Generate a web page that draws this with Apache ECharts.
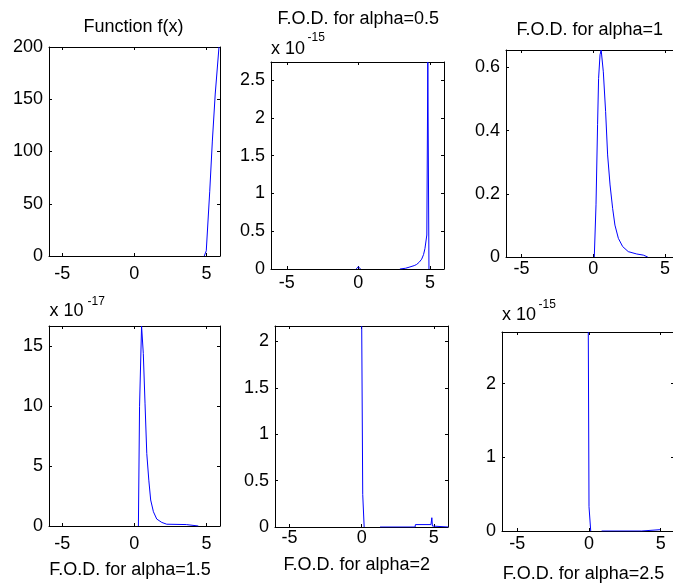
<!DOCTYPE html>
<html><head><meta charset="utf-8">
<script src="https://cdn.jsdelivr.net/npm/echarts@6/dist/echarts.min.js"></script>
<style>html,body{margin:0;padding:0;background:#fff}#c{width:673px;height:588px}</style>
</head><body><div id="c"></div>
<script>
// ---------- data ----------
const xTickValues = [-5, 0, 5];

const titles = ['Function f(x)', 'F.O.D. for alpha=0.5', 'F.O.D. for alpha=1',
                'F.O.D. for alpha=1.5', 'F.O.D. for alpha=2', 'F.O.D. for alpha=2.5'];
const exponents = [null, '-15', null, '-17', null, '-15'];

const yTicksF    = [0, 50, 100, 150, 200];
const yTicksA05  = [0, 0.5, 1, 1.5, 2, 2.5];
const yTicksA1   = [0, 0.2, 0.4, 0.6];
const yTicksA15  = [0, 5, 10, 15];
const yTicksA2   = [0, 0.5, 1, 1.5, 2];
const yTicksA25  = [0, 1, 2];

const xLimits = [[-5.91, 5.93], [-6.1, 5.98], [-6.09, 5.98], [-5.91, 5.93], [-6.01, 5.98], [-6.07, 5.93]];
const yLimits = [[0, 200], [0, 2.74], [0, 0.655], [0, 16.7], [0, 2.166], [0, 2.70]];

// Function f(x)
const fX = [4.84, 4.98, 5.22, 5.4, 5.6, 5.86];
const fY = [0, 5, 62, 110, 155, 200];
// alpha = 0.5  (x 10^-15)
const a05X = [-0.15, 0, 0.15, null, 2.9, 3.3, 3.6, 3.9, 4.07, 4.25, 4.42, 4.55, 4.65, 4.78, 4.85, 4.93];
const a05Y = [0, 0.03, 0, null, 0, 0.01, 0.027, 0.045, 0.06, 0.09, 0.13, 0.19, 0.27, 0.45, 2.74, 0];
// alpha = 1
const a1X = [0.07, 0.19, 0.3, 0.37, 0.47, 0.55, 0.7, 0.86, 1.0, 1.17, 1.35, 1.51, 1.75, 2.05, 2.44, 3.03, 3.49, 3.8];
const a1Y = [0, 0.165, 0.42, 0.565, 0.64, 0.655, 0.586, 0.46, 0.323, 0.228, 0.154, 0.101, 0.059, 0.033, 0.017, 0.0095, 0.006, 0];
// alpha = 1.5  (x 10^-17)
const a15X = [0.28, 0.36, 0.5, 0.62, 0.74, 0.86, 1.0, 1.13, 1.32, 1.55, 1.9, 2.24, 3.6, 3.65, 4.43];
const a15Y = [0, 10, 16.7, 14.4, 10.2, 6.06, 3.83, 2.17, 1.19, 0.58, 0.3, 0.15, 0.12, 0, 0];
// alpha = 2
const a2X = [0.0, 0.07, 0.17, null, 1.27, 3.7, 3.72, 4.8, 4.86, 4.9, 6.0];
const a2Y = [2.166, 0.35, 0, null, 0, 0, 0.026, 0.026, 0.10, 0.01, 0];
// alpha = 2.5  (x 10^-15)
const a25X = [-0.05, 0.0, 0.12, null, 0.88, 3.67, 3.7, 4.95];
const a25Y = [2.70, 0.33, 0, null, 0, 0, 0.018, 0.018];

const seriesX = [fX, a05X, a1X, a15X, a2X, a25X];
const seriesY = [fY, a05Y, a1Y, a15Y, a2Y, a25Y];
const yTicks = [yTicksF, yTicksA05, yTicksA1, yTicksA15, yTicksA2, yTicksA25];

// ---------- layout (pixels) ----------
const layout = [
  {left: 49, top: 47, width: 171, height: 209, xMargin: 9,  title: [133.5, 27], exp: null},
  {left: 271, top: 62, width: 173, height: 207, xMargin: 5, title: [358.3, 19], exp: [271, 49, 307.5, 37.5]},
  {left: 506, top: 50, width: 173, height: 207, xMargin: 3, title: [589.7, 30.5], exp: null},
  {left: 49, top: 326, width: 171, height: 200, xMargin: 9.5, title: [130, 570], exp: [49.5, 311, 87.5, 301.5]},
  {left: 275, top: 326, width: 173, height: 201, xMargin: 2, title: [356.7, 565], exp: null},
  {left: 502, top: 332, width: 172, height: 199, xMargin: 4.5, title: [583.5, 574], exp: [502, 315.5, 538.5, 305]}
];

const FONT = "'Liberation Sans', Arial, sans-serif";
const fmt = v => String(+(+v).toFixed(6));

const grid = [], xAxis = [], yAxis = [], series = [], graphic = [];
const lineStyle = {color: '#000', width: 1};

layout.forEach((L, i) => {
  grid.push({left: L.left, top: L.top, width: L.width, height: L.height,
             containLabel: false, outerBoundsMode: 'none'});
  const common = {gridIndex: i, type: 'value', splitLine: {show: false},
                  axisLine: {show: true, onZero: false, lineStyle}};
  // bottom
  xAxis.push(Object.assign({}, common, {position: 'bottom', min: xLimits[i][0], max: xLimits[i][1],
    axisTick: {show: true, inside: true, length: 3, lineStyle, customValues: xTickValues},
    axisLabel: {show: true, margin: L.xMargin, color: '#000', fontSize: 18, fontFamily: FONT,
                customValues: xTickValues, formatter: fmt}}));
  // top (mirror)
  xAxis.push(Object.assign({}, common, {position: 'top', min: xLimits[i][0], max: xLimits[i][1],
    axisTick: {show: true, inside: true, length: 3, lineStyle, customValues: xTickValues},
    axisLabel: {show: false}}));
  // left
  yAxis.push(Object.assign({}, common, {position: 'left', min: yLimits[i][0], max: yLimits[i][1],
    axisTick: {show: true, inside: true, length: 3, lineStyle, customValues: yTicks[i]},
    axisLabel: {show: true, margin: 6, color: '#000', fontSize: 18, fontFamily: FONT,
                customValues: yTicks[i], formatter: fmt}}));
  // right (mirror)
  yAxis.push(Object.assign({}, common, {position: 'right', min: yLimits[i][0], max: yLimits[i][1],
    axisTick: {show: true, inside: true, length: 3, lineStyle, customValues: yTicks[i]},
    axisLabel: {show: false}}));

  const data = seriesX[i].map((x, k) => (x === null || seriesY[i][k] === null) ? ['-', '-'] : [x, seriesY[i][k]]);
  series.push({type: 'line', xAxisIndex: 2 * i, yAxisIndex: 2 * i, data,
    showSymbol: false, symbol: 'none', connectNulls: false, clip: true, animation: false,
    lineStyle: {color: '#0000ff', width: 1}});

  graphic.push({type: 'text', x: L.title[0], y: L.title[1],
    style: {text: titles[i], font: '18px ' + FONT, fill: '#000',
            align: 'center', verticalAlign: 'middle', textAlign: 'center', textVerticalAlign: 'middle'}});
  if (exponents[i]) {
    graphic.push({type: 'text', x: L.exp[0], y: L.exp[1],
      style: {text: 'x 10', font: '18px ' + FONT, fill: '#000',
              align: 'left', verticalAlign: 'middle', textAlign: 'left', textVerticalAlign: 'middle'}});
    graphic.push({type: 'text', x: L.exp[2], y: L.exp[3],
      style: {text: exponents[i], font: '12px ' + FONT, fill: '#000',
              align: 'left', verticalAlign: 'middle', textAlign: 'left', textVerticalAlign: 'middle'}});
  }
});

const chart = echarts.init(document.getElementById('c'), null, {renderer: 'canvas'});
chart.setOption({animation: false, backgroundColor: '#fff', grid, xAxis, yAxis, series, graphic});
</script>
</body></html>
